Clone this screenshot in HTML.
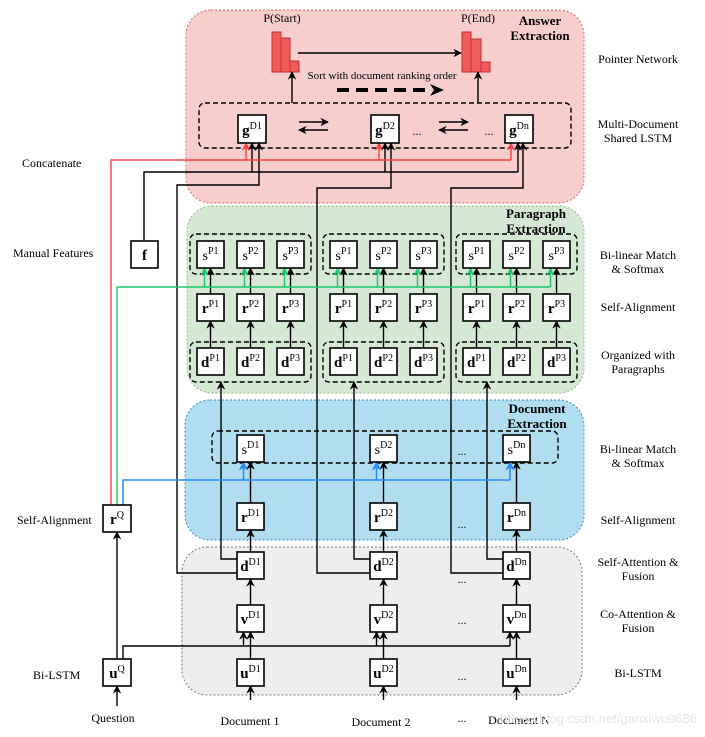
<!DOCTYPE html>
<html><head><meta charset="utf-8"><style>
html,body{margin:0;padding:0;background:#fff}
svg{display:block;font-family:"Liberation Serif",serif}
.b{fill:#fff;stroke:#000;stroke-width:1.6}
.l{fill:none;stroke:#000;stroke-width:1.4}
.t{font-size:12px}
.bl{font-weight:bold;font-size:15px}
.sp{font-size:10px}
</style></head><body>
<svg width="705" height="737" viewBox="0 0 705 737" xmlns="http://www.w3.org/2000/svg">
<defs>
<marker id="ak" viewBox="0 0 10 10" refX="9" refY="5" markerWidth="6" markerHeight="6" orient="auto"><path d="M0,0 L10,5 L0,10 L3,5z" fill="#000"/></marker>
<marker id="ar" viewBox="0 0 10 10" refX="9" refY="5" markerWidth="6" markerHeight="6" orient="auto"><path d="M0,0 L10,5 L0,10 L3,5z" fill="#ff4040"/></marker>
<marker id="ag" viewBox="0 0 10 10" refX="9" refY="5" markerWidth="6" markerHeight="6" orient="auto"><path d="M0,0 L10,5 L0,10 L3,5z" fill="#1ec86e"/></marker>
<marker id="ab" viewBox="0 0 10 10" refX="9" refY="5" markerWidth="6" markerHeight="6" orient="auto"><path d="M0,0 L10,5 L0,10 L3,5z" fill="#2a8cff"/></marker>
</defs>
<rect x="186" y="10" width="398" height="193" rx="25" fill="#f8cecc" stroke="#d46a6a" stroke-dasharray="2,2"/>
<rect x="187" y="206" width="397" height="187" rx="25" fill="#d5e8d4" stroke="#8fbf7f" stroke-dasharray="2,2"/>
<rect x="185" y="400" width="399" height="140" rx="25" fill="#b1ddf0" stroke="#3a8cc0" stroke-dasharray="2,2"/>
<rect x="182" y="547" width="400" height="148" rx="25" fill="#eeeeee" stroke="#777" stroke-dasharray="2,2"/>
<g font-weight="bold" font-size="13" text-anchor="middle">
<text x="540" y="25">Answer</text><text x="540" y="40">Extraction</text>
<text x="536" y="218">Paragraph</text><text x="536" y="233">Extraction</text>
<text x="537" y="413">Document</text><text x="537" y="428">Extraction</text>
</g>
<g class="t" text-anchor="middle">
<text x="638" y="63">Pointer Network</text>
<text x="638" y="128">Multi-Document</text><text x="638" y="142">Shared LSTM</text>
<text x="638" y="259">Bi-linear Match</text><text x="638" y="273">&amp; Softmax</text>
<text x="638" y="311">Self-Alignment</text>
<text x="638" y="359">Organized with</text><text x="638" y="373">Paragraphs</text>
<text x="638" y="453">Bi-linear Match</text><text x="638" y="467">&amp; Softmax</text>
<text x="638" y="524">Self-Alignment</text>
<text x="638" y="566">Self-Attention &amp;</text><text x="638" y="580">Fusion</text>
<text x="638" y="618">Co-Attention &amp;</text><text x="638" y="632">Fusion</text>
<text x="638" y="677">Bi-LSTM</text>
</g>
<g class="t">
<text x="22" y="167">Concatenate</text>
<text x="13" y="257">Manual Features</text>
<text x="17" y="524">Self-Alignment</text>
<text x="33" y="679">Bi-LSTM</text>
</g>
<g class="t" text-anchor="middle">
<text x="113" y="722">Question</text>
<text x="250" y="725">Document 1</text>
<text x="381" y="726">Document 2</text>
<text x="519" y="724">Document N</text>
</g>
<g fill="#f25c5c" stroke="#c03030" stroke-width="1">
<rect x="272" y="32" width="9" height="40"/><rect x="281" y="38" width="9" height="34"/><rect x="290" y="61" width="9" height="11"/>
<rect x="462" y="32" width="9" height="40"/><rect x="471" y="39" width="10" height="33"/><rect x="481" y="62" width="9" height="10"/>
</g>
<g class="t" text-anchor="middle"><text x="282" y="22">P(Start)</text><text x="478" y="22">P(End)</text>
<text x="382" y="79" font-size="11">Sort with document ranking order</text></g>
<path class="l" d="M298,53 H461" marker-end="url(#ak)"/>
<path d="M337,90 H432" stroke="#000" stroke-width="4" stroke-dasharray="12,7"/>
<path d="M430,84 L444,90 L430,96 L434,90z" fill="#000"/>
<path class="l" d="M292,103 V72" marker-end="url(#ak)"/>
<path class="l" d="M478,103 V72" marker-end="url(#ak)"/>
<g fill="none" stroke="#000" stroke-width="1.4" stroke-dasharray="5,3">
<rect x="199" y="103" width="372" height="45" rx="6"/>
<rect x="212" y="431" width="346" height="32" rx="6"/>
<rect x="190" y="234" width="121" height="40" rx="6"/><rect x="323" y="234" width="121" height="40" rx="6"/><rect x="456" y="234" width="121" height="40" rx="6"/>
<rect x="190" y="342" width="121" height="40" rx="6"/><rect x="323" y="342" width="121" height="40" rx="6"/><rect x="456" y="342" width="121" height="40" rx="6"/>
</g>
<path class="l" d="M299,122 H328" marker-end="url(#ak)"/><path class="l" d="M328,130 H299" marker-end="url(#ak)"/>
<path class="l" d="M439,122 H468" marker-end="url(#ak)"/><path class="l" d="M468,130 H439" marker-end="url(#ak)"/>
<g class="t" text-anchor="middle"><text x="417" y="135">...</text><text x="489" y="135">...</text>
<text x="462" y="455">...</text><text x="462" y="528">...</text><text x="462" y="583">...</text><text x="462" y="624">...</text><text x="462" y="680">...</text><text x="462" y="722">...</text></g>
<g class="l">
<path d="M250.5,700 V686" marker-end="url(#ak)"/><path d="M383.5,700 V686" marker-end="url(#ak)"/><path d="M516.5,700 V686" marker-end="url(#ak)"/>
<path d="M117,706 V686" marker-end="url(#ak)"/>
<path d="M117,659 V532" marker-end="url(#ak)"/>
<path d="M250.5,659 V632" marker-end="url(#ak)"/><path d="M383.5,659 V632" marker-end="url(#ak)"/><path d="M516.5,659 V632" marker-end="url(#ak)"/>
<path d="M123,659 V646 H510"/>
<path d="M243.5,646 V632" marker-end="url(#ak)"/><path d="M376.5,646 V632" marker-end="url(#ak)"/><path d="M510,646 V632" marker-end="url(#ak)"/>
<path d="M250.5,605 V579" marker-end="url(#ak)"/><path d="M383.5,605 V579" marker-end="url(#ak)"/><path d="M516.5,605 V579" marker-end="url(#ak)"/>
<path d="M250.5,552 V530" marker-end="url(#ak)"/><path d="M383.5,552 V530" marker-end="url(#ak)"/><path d="M516.5,552 V530" marker-end="url(#ak)"/>
<path d="M250.5,503 V462" marker-end="url(#ak)"/><path d="M383.5,503 V462" marker-end="url(#ak)"/><path d="M516.5,503 V462" marker-end="url(#ak)"/>
<path d="M237,559 H221 V382" marker-end="url(#ak)"/><path d="M370,559 H354 V382" marker-end="url(#ak)"/><path d="M503,559 H487 V382" marker-end="url(#ak)"/>
<path d="M237,573 H177 V185 H259 V143" marker-end="url(#ak)"/>
<path d="M370,573 H317 V188 H391 V143" marker-end="url(#ak)"/>
<path d="M503,573 H451 V188 H523 V143" marker-end="url(#ak)"/>
<path d="M144,241 V172 H518"/>
<path d="M252,172 V143" marker-end="url(#ak)"/><path d="M385,172 V143" marker-end="url(#ak)"/><path d="M518,172 V143" marker-end="url(#ak)"/>
<path d="M210.5,348 V321" marker-end="url(#ak)"/><path d="M250.5,348 V321" marker-end="url(#ak)"/><path d="M290.5,348 V321" marker-end="url(#ak)"/>
<path d="M343.5,348 V321" marker-end="url(#ak)"/><path d="M383.5,348 V321" marker-end="url(#ak)"/><path d="M423.5,348 V321" marker-end="url(#ak)"/>
<path d="M476.5,348 V321" marker-end="url(#ak)"/><path d="M516.5,348 V321" marker-end="url(#ak)"/><path d="M556.5,348 V321" marker-end="url(#ak)"/>
<path d="M210.5,294 V268" marker-end="url(#ak)"/><path d="M250.5,294 V268" marker-end="url(#ak)"/><path d="M290.5,294 V268" marker-end="url(#ak)"/>
<path d="M343.5,294 V268" marker-end="url(#ak)"/><path d="M383.5,294 V268" marker-end="url(#ak)"/><path d="M423.5,294 V268" marker-end="url(#ak)"/>
<path d="M476.5,294 V268" marker-end="url(#ak)"/><path d="M516.5,294 V268" marker-end="url(#ak)"/><path d="M556.5,294 V268" marker-end="url(#ak)"/>
</g>
<g fill="none" stroke="#ff4040" stroke-width="1.4">
<path d="M111,505 V160 H511"/>
<path d="M246,160 V143" marker-end="url(#ar)"/><path d="M379,160 V143" marker-end="url(#ar)"/><path d="M511,160 V143" marker-end="url(#ar)"/>
</g>
<g fill="none" stroke="#1ec86e" stroke-width="1.4">
<path d="M117,505 V287 H550"/>
<path d="M204.5,287 V268" marker-end="url(#ag)"/><path d="M244.5,287 V268" marker-end="url(#ag)"/><path d="M284.5,287 V268" marker-end="url(#ag)"/>
<path d="M337.5,287 V268" marker-end="url(#ag)"/><path d="M377.5,287 V268" marker-end="url(#ag)"/><path d="M417.5,287 V268" marker-end="url(#ag)"/>
<path d="M470.5,287 V268" marker-end="url(#ag)"/><path d="M510.5,287 V268" marker-end="url(#ag)"/><path d="M550.5,287 V268" marker-end="url(#ag)"/>
</g>
<g fill="none" stroke="#2a8cff" stroke-width="1.6">
<path d="M123,505 V480 H510"/>
<path d="M243.5,480 V462" marker-end="url(#ab)"/><path d="M376.5,480 V462" marker-end="url(#ab)"/><path d="M510,480 V462" marker-end="url(#ab)"/>
</g>
<g>
<rect class="b" x="103" y="659" width="28" height="27"/><text x="117" y="678" text-anchor="middle"><tspan class="bl">u</tspan><tspan class="sp" dy="-6">Q</tspan></text>
<rect class="b" x="103" y="505" width="28" height="27"/><text x="117" y="524" text-anchor="middle"><tspan class="bl">r</tspan><tspan class="sp" dy="-6">Q</tspan></text>
<rect class="b" x="131" y="241" width="27" height="27"/><text x="144.5" y="260" text-anchor="middle" class="bl">f</text>
</g>
<g text-anchor="middle">
<rect class="b" x="237" y="659" width="27" height="27"/><text x="250.5" y="678"><tspan class="bl">u</tspan><tspan class="sp" dy="-6">D1</tspan></text>
<rect class="b" x="370" y="659" width="27" height="27"/><text x="383.5" y="678"><tspan class="bl">u</tspan><tspan class="sp" dy="-6">D2</tspan></text>
<rect class="b" x="503" y="659" width="27" height="27"/><text x="516.5" y="678"><tspan class="bl">u</tspan><tspan class="sp" dy="-6">Dn</tspan></text>
<rect class="b" x="237" y="605" width="27" height="27"/><text x="250.5" y="624"><tspan class="bl">v</tspan><tspan class="sp" dy="-6">D1</tspan></text>
<rect class="b" x="370" y="605" width="27" height="27"/><text x="383.5" y="624"><tspan class="bl">v</tspan><tspan class="sp" dy="-6">D2</tspan></text>
<rect class="b" x="503" y="605" width="27" height="27"/><text x="516.5" y="624"><tspan class="bl">v</tspan><tspan class="sp" dy="-6">Dn</tspan></text>
<rect class="b" x="237" y="552" width="27" height="27"/><text x="250.5" y="571"><tspan class="bl">d</tspan><tspan class="sp" dy="-6">D1</tspan></text>
<rect class="b" x="370" y="552" width="27" height="27"/><text x="383.5" y="571"><tspan class="bl">d</tspan><tspan class="sp" dy="-6">D2</tspan></text>
<rect class="b" x="503" y="552" width="27" height="27"/><text x="516.5" y="571"><tspan class="bl">d</tspan><tspan class="sp" dy="-6">Dn</tspan></text>
<rect class="b" x="237" y="503" width="27" height="27"/><text x="250.5" y="522"><tspan class="bl">r</tspan><tspan class="sp" dy="-6">D1</tspan></text>
<rect class="b" x="370" y="503" width="27" height="27"/><text x="383.5" y="522"><tspan class="bl">r</tspan><tspan class="sp" dy="-6">D2</tspan></text>
<rect class="b" x="503" y="503" width="27" height="27"/><text x="516.5" y="522"><tspan class="bl">r</tspan><tspan class="sp" dy="-6">Dn</tspan></text>
<rect class="b" x="237" y="435" width="27" height="27"/><text x="250.5" y="454"><tspan font-size="14">s</tspan><tspan class="sp" dy="-6">D1</tspan></text>
<rect class="b" x="370" y="435" width="27" height="27"/><text x="383.5" y="454"><tspan font-size="14">s</tspan><tspan class="sp" dy="-6">D2</tspan></text>
<rect class="b" x="503" y="435" width="27" height="27"/><text x="516.5" y="454"><tspan font-size="14">s</tspan><tspan class="sp" dy="-6">Dn</tspan></text>
<rect class="b" x="238" y="115" width="28" height="28"/><text x="252" y="135"><tspan class="bl">g</tspan><tspan class="sp" dy="-6">D1</tspan></text>
<rect class="b" x="371" y="115" width="28" height="28"/><text x="385" y="135"><tspan class="bl">g</tspan><tspan class="sp" dy="-6">D2</tspan></text>
<rect class="b" x="505" y="115" width="28" height="28"/><text x="519" y="135"><tspan class="bl">g</tspan><tspan class="sp" dy="-6">Dn</tspan></text>
</g>
<g text-anchor="middle">
<rect class="b" x="197" y="241" width="27" height="27"/><text x="210.5" y="260"><tspan font-size="14">s</tspan><tspan class="sp" dy="-6">P1</tspan></text>
<rect class="b" x="237" y="241" width="27" height="27"/><text x="250.5" y="260"><tspan font-size="14">s</tspan><tspan class="sp" dy="-6">P2</tspan></text>
<rect class="b" x="277" y="241" width="27" height="27"/><text x="290.5" y="260"><tspan font-size="14">s</tspan><tspan class="sp" dy="-6">P3</tspan></text>
<rect class="b" x="330" y="241" width="27" height="27"/><text x="343.5" y="260"><tspan font-size="14">s</tspan><tspan class="sp" dy="-6">P1</tspan></text>
<rect class="b" x="370" y="241" width="27" height="27"/><text x="383.5" y="260"><tspan font-size="14">s</tspan><tspan class="sp" dy="-6">P2</tspan></text>
<rect class="b" x="410" y="241" width="27" height="27"/><text x="423.5" y="260"><tspan font-size="14">s</tspan><tspan class="sp" dy="-6">P3</tspan></text>
<rect class="b" x="463" y="241" width="27" height="27"/><text x="476.5" y="260"><tspan font-size="14">s</tspan><tspan class="sp" dy="-6">P1</tspan></text>
<rect class="b" x="503" y="241" width="27" height="27"/><text x="516.5" y="260"><tspan font-size="14">s</tspan><tspan class="sp" dy="-6">P2</tspan></text>
<rect class="b" x="543" y="241" width="27" height="27"/><text x="556.5" y="260"><tspan font-size="14">s</tspan><tspan class="sp" dy="-6">P3</tspan></text>
<rect class="b" x="197" y="294" width="27" height="27"/><text x="210.5" y="313"><tspan class="bl">r</tspan><tspan class="sp" dy="-6">P1</tspan></text>
<rect class="b" x="237" y="294" width="27" height="27"/><text x="250.5" y="313"><tspan class="bl">r</tspan><tspan class="sp" dy="-6">P2</tspan></text>
<rect class="b" x="277" y="294" width="27" height="27"/><text x="290.5" y="313"><tspan class="bl">r</tspan><tspan class="sp" dy="-6">P3</tspan></text>
<rect class="b" x="330" y="294" width="27" height="27"/><text x="343.5" y="313"><tspan class="bl">r</tspan><tspan class="sp" dy="-6">P1</tspan></text>
<rect class="b" x="370" y="294" width="27" height="27"/><text x="383.5" y="313"><tspan class="bl">r</tspan><tspan class="sp" dy="-6">P2</tspan></text>
<rect class="b" x="410" y="294" width="27" height="27"/><text x="423.5" y="313"><tspan class="bl">r</tspan><tspan class="sp" dy="-6">P3</tspan></text>
<rect class="b" x="463" y="294" width="27" height="27"/><text x="476.5" y="313"><tspan class="bl">r</tspan><tspan class="sp" dy="-6">P1</tspan></text>
<rect class="b" x="503" y="294" width="27" height="27"/><text x="516.5" y="313"><tspan class="bl">r</tspan><tspan class="sp" dy="-6">P2</tspan></text>
<rect class="b" x="543" y="294" width="27" height="27"/><text x="556.5" y="313"><tspan class="bl">r</tspan><tspan class="sp" dy="-6">P3</tspan></text>
<rect class="b" x="197" y="348" width="27" height="27"/><text x="210.5" y="367"><tspan class="bl">d</tspan><tspan class="sp" dy="-6">P1</tspan></text>
<rect class="b" x="237" y="348" width="27" height="27"/><text x="250.5" y="367"><tspan class="bl">d</tspan><tspan class="sp" dy="-6">P2</tspan></text>
<rect class="b" x="277" y="348" width="27" height="27"/><text x="290.5" y="367"><tspan class="bl">d</tspan><tspan class="sp" dy="-6">P3</tspan></text>
<rect class="b" x="330" y="348" width="27" height="27"/><text x="343.5" y="367"><tspan class="bl">d</tspan><tspan class="sp" dy="-6">P1</tspan></text>
<rect class="b" x="370" y="348" width="27" height="27"/><text x="383.5" y="367"><tspan class="bl">d</tspan><tspan class="sp" dy="-6">P2</tspan></text>
<rect class="b" x="410" y="348" width="27" height="27"/><text x="423.5" y="367"><tspan class="bl">d</tspan><tspan class="sp" dy="-6">P3</tspan></text>
<rect class="b" x="463" y="348" width="27" height="27"/><text x="476.5" y="367"><tspan class="bl">d</tspan><tspan class="sp" dy="-6">P1</tspan></text>
<rect class="b" x="503" y="348" width="27" height="27"/><text x="516.5" y="367"><tspan class="bl">d</tspan><tspan class="sp" dy="-6">P2</tspan></text>
<rect class="b" x="543" y="348" width="27" height="27"/><text x="556.5" y="367"><tspan class="bl">d</tspan><tspan class="sp" dy="-6">P3</tspan></text>
</g>
<text x="697" y="723" text-anchor="end" font-family="Liberation Sans,sans-serif" font-size="13" fill="#e6e6e6">https://blog.csdn.net/ganxiwu9686</text>
</svg>
</body></html>
